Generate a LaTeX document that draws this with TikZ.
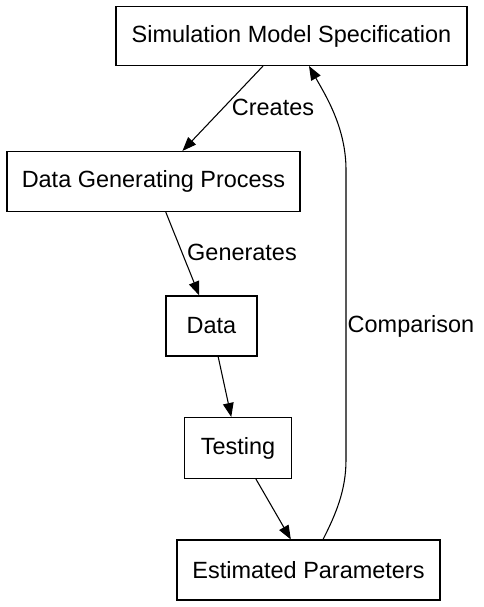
\documentclass[tikz,border=0pt]{standalone}
\usepackage{fontspec}
\setmainfont{Liberation Sans}
\usetikzlibrary{arrows.meta}
\begin{document}
\begin{tikzpicture}[x=0.75pt,y=-0.75pt,
  box/.style={draw,line width=0.8pt,inner sep=0pt,font=\fontsize{17.6pt}{20pt}\selectfont},
  lbl/.style={font=\fontsize{17.6pt}{20pt}\selectfont},
  conn/.style={line width=0.8pt,-{Triangle[length=10.5pt,width=8pt]}}]
\useasboundingbox (0,0) rectangle (483,607);
\node[box,minimum width=351*0.75pt,minimum height=59*0.75pt] (sms) at (291.5,36) {Simulation Model Specification};
\node[box,minimum width=293*0.75pt,minimum height=60*0.75pt] (dgp) at (153.5,181.5) {Data Generating Process};
\node[box,minimum width=91*0.75pt,minimum height=60*0.75pt] (data) at (211.5,326) {Data};
\node[box,minimum width=107*0.75pt,minimum height=61*0.75pt] (test) at (238,448) {Testing};
\node[box,minimum width=263*0.75pt,minimum height=60*0.75pt] (ep) at (308.5,570) {Estimated Parameters};
\draw[conn] (sms) -- (dgp);
\draw[conn] (dgp) -- (data);
\draw[conn] (data) -- (test);
\draw[conn] (test) -- (ep);
\coordinate (c1) at (346,460);
\coordinate (c2) at (346,170);
\coordinate (tip) at (309,66);
\draw[conn] (ep.north -| 323,0) .. controls (336,514) and (346,490) .. (c1) -- (c2) .. controls (346,128) and (326,96) .. (tip);
\node[lbl] (lcreates) at (273,107) {Creates};
\node[lbl] (lgen) at (242,252) {Generates};
\node[lbl] (lcomp) at (411,326) {Comparison};
\end{tikzpicture}
\end{document}
